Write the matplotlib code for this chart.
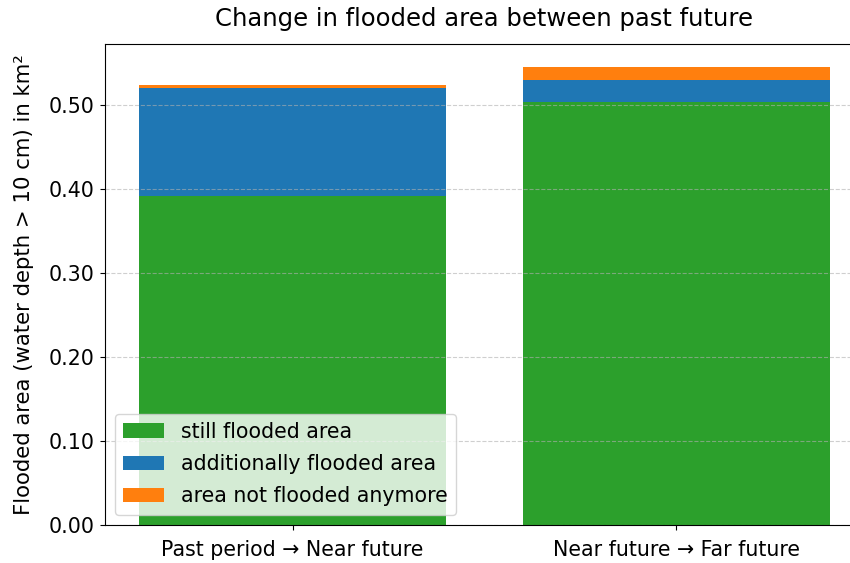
import matplotlib.pyplot as plt
import numpy as np
from matplotlib.ticker import FormatStrFormatter

periods = ['Past period → Near future', 'Near future → Far future']
still_flooded = [0.391, 0.503]
additionally_flooded = [0.129, 0.027]
not_flooded_anymore = [0.004, 0.015]

x = np.arange(len(periods))
bottom2 = np.array(still_flooded) + np.array(additionally_flooded)

fig = plt.figure(figsize=(8.5, 5.63), dpi=100)
ax = fig.add_axes([0.1232, 0.0675, 0.8933, 0.8538])

ax.bar(x, still_flooded, width=0.8, color='tab:green', label='still flooded area')
ax.bar(x, additionally_flooded, width=0.8, bottom=still_flooded, color='tab:blue', label='additionally flooded area')
ax.bar(x, not_flooded_anymore, width=0.8, bottom=bottom2, color='tab:orange', label='area not flooded anymore')

ax.set_xticks(x)
ax.set_xticklabels(periods, fontsize=14.8)
ax.tick_params(axis='x', pad=7)
ax.set_ylim(0, 0.572)
ax.set_xlim(-0.49, 1.49)
ax.yaxis.set_major_formatter(FormatStrFormatter('%.2f'))
ax.tick_params(axis='y', labelsize=14.8)
ax.set_ylabel('Flooded area (water depth > 10 cm) in km²', fontsize=15.3, labelpad=11)
ax.set_title('Change in flooded area between past future', fontsize=17.5, pad=13)
ax.grid(axis='y', linestyle='--', alpha=0.6)
ax.legend(loc='lower left', fontsize=14.8, labelspacing=0.6)

fig.savefig('out.png', dpi=100)
